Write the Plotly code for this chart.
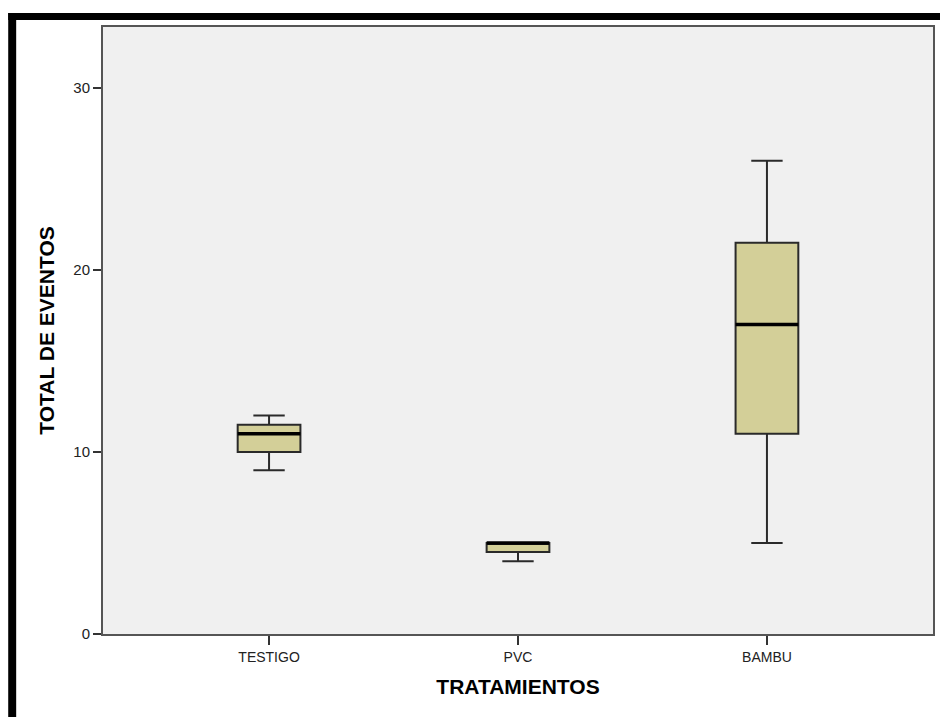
import plotly.graph_objects as go

# Treatment groups and their box-plot summaries (total events)
tratamientos = ["TESTIGO", "PVC", "BAMBU"]
minimo = [9, 4, 5]
q1 = [10, 4.5, 11]
mediana = [11, 5, 17]
q3 = [11.5, 5, 21.5]
maximo = [12, 5, 26]

posiciones = list(range(len(tratamientos)))
ancho_caja = 0.252

fill_color = "#D3CF98"
edge_color = "#2a2a2a"

fig = go.Figure()

fig.add_trace(go.Box(
    x=posiciones,
    q1=q1,
    median=mediana,
    q3=q3,
    lowerfence=minimo,
    upperfence=maximo,
    width=ancho_caja,
    whiskerwidth=0.5,
    fillcolor=fill_color,
    line=dict(color=edge_color, width=2),
    boxpoints=False,
    hoverinfo="skip",
    showlegend=False,
))

# Heavier median bars drawn over each box
for p, m in zip(posiciones, mediana):
    fig.add_trace(go.Scatter(
        x=[p - ancho_caja / 2, p + ancho_caja / 2],
        y=[m, m],
        mode="lines",
        line=dict(color="#000000", width=3.5),
        hoverinfo="skip",
        showlegend=False,
    ))

x_tick_font = dict(family="Liberation Sans, Arial, sans-serif", size=14, color="#222222")
y_tick_font = dict(family="Liberation Sans, Arial, sans-serif", size=15, color="#222222")
title_font = dict(family="Liberation Sans, Arial, sans-serif", size=21, color="#000000")

fig.update_layout(
    width=940,
    height=717,
    margin=dict(l=103, r=5, t=27, b=83),
    paper_bgcolor="#FFFFFF",
    plot_bgcolor="#F0F0F0",
    xaxis=dict(
        range=[-0.667, 2.667],
        tickmode="array",
        tickvals=posiciones,
        ticktext=tratamientos,
        ticks="outside",
        ticklen=9,
        tickwidth=2,
        tickcolor="#333333",
        tickfont=x_tick_font,
        showgrid=False,
        zeroline=False,
        showline=True,
        linecolor="#555555",
        linewidth=2,
        mirror=True,
        title=dict(text="<b>TRATAMIENTOS</b>", font=title_font, standoff=16),
    ),
    yaxis=dict(
        range=[0, 33.35],
        tickmode="array",
        tickvals=[0, 10, 20, 30],
        ticks="outside",
        ticklen=8,
        tickwidth=2,
        tickcolor="#333333",
        tickfont=y_tick_font,
        showgrid=False,
        zeroline=False,
        showline=True,
        linecolor="#555555",
        linewidth=2,
        mirror=True,
        title=dict(text="<b>TOTAL DE EVENTOS</b>", font=title_font, standoff=13),
    ),
    shapes=[
        # heavy black frame along the top and left edges of the figure
        dict(type="rect", xref="paper", yref="paper",
             x0=-0.1142, x1=1.01, y0=1.0115, y1=1.0231,
             fillcolor="#000000", line=dict(width=0), layer="above"),
        dict(type="rect", xref="paper", yref="paper",
             x0=-0.1142, x1=-0.1046, y0=-0.15, y1=1.0231,
             fillcolor="#000000", line=dict(width=0), layer="above"),
    ],
)

fig.write_html("out.html")
